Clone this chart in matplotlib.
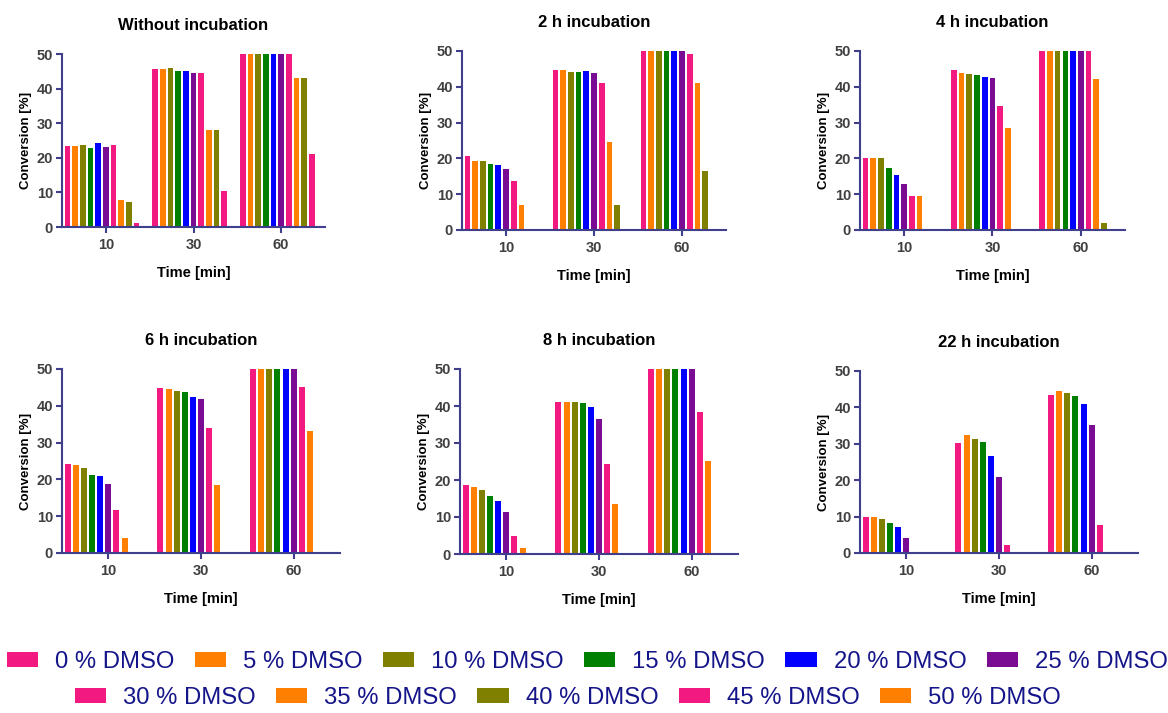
import numpy as np
import matplotlib
matplotlib.use("Agg")
import matplotlib.pyplot as plt
from matplotlib.patches import Patch

plt.rcParams['font.family'] = ['Liberation Sans', 'DejaVu Sans']

# DMSO content of each series and its colour
dmso = [0, 5, 10, 15, 20, 25, 30, 35, 40, 45, 50]
colors = ['#F21A80', '#FF8000', '#808000', '#008000', '#0000FF', '#7A0C94',
          '#F21A80', '#FF8000', '#808000', '#F21A80', '#FF8000']
times = ['10', '30', '60']

# conversion [%] per reaction time, one value per DMSO level
conv_none = [[23.4, 23.4, 23.6, 22.9, 24.2, 23.1, 23.6, 7.7, 7.3, 1.3, 0],
             [45.6, 45.7, 45.9, 45.1, 45.1, 44.6, 44.4, 27.9, 27.9, 10.3, 0],
             [50, 50, 50, 50, 50, 50, 50, 43.2, 43.2, 21.2, 0]]
conv_2h = [[20.6, 19.4, 19.4, 18.3, 18.1, 16.9, 13.7, 7.1, 0.4, 0, 0],
           [44.6, 44.6, 44.1, 44.1, 44.3, 43.8, 41.1, 24.7, 7.1, 0, 0],
           [50, 50, 50, 50, 50, 50, 49.1, 41.0, 16.4, 0, 0]]
conv_4h = [[20.2, 20.2, 20.1, 17.4, 15.5, 12.8, 9.4, 9.6, 0, 0, 0],
           [44.7, 43.8, 43.6, 43.2, 42.6, 42.4, 34.6, 28.5, 0, 0, 0],
           [50, 50, 50, 50, 50, 50, 50, 42.3, 2.0, 0, 0]]
conv_6h = [[24.1, 23.9, 23.0, 21.2, 21.0, 18.8, 11.7, 4.1, 0, 0, 0],
           [44.8, 44.7, 44.0, 43.8, 42.3, 41.9, 34.1, 18.4, 0, 0, 0],
           [50, 50, 50, 50, 50, 50, 45.0, 33.1, 0, 0, 0]]
conv_8h = [[18.6, 18.1, 17.2, 15.6, 14.4, 11.3, 5.0, 1.7, 0, 0, 0],
           [41.1, 41.1, 41.1, 40.8, 39.7, 36.5, 24.2, 13.6, 0, 0, 0],
           [50, 50, 50, 50, 50, 50, 38.5, 25.1, 0, 0, 0]]
conv_22h = [[9.8, 9.8, 9.4, 8.3, 7.1, 4.1, 0, 0, 0, 0, 0],
            [30.2, 32.4, 31.4, 30.6, 26.7, 20.8, 2.2, 0, 0, 0, 0],
            [43.4, 44.4, 43.9, 43.2, 41.0, 35.2, 7.7, 0, 0, 0, 0]]

titles = ['Without incubation', '2 h incubation', '4 h incubation',
          '6 h incubation', '8 h incubation', '22 h incubation']
panels = [conv_none, conv_2h, conv_4h, conv_6h, conv_8h, conv_22h]

W, H = 1168, 713
# axes boxes in pixels: left, right, bottom, top
boxes = [(62, 325, 227, 54), (462, 726, 230, 51), (860, 1125, 230, 51),
         (62, 340, 553, 369), (460, 738, 554, 369), (860, 1138, 553, 371)]

axis_col = '#3F3F8C'
tick_col = '#404040'
fig = plt.figure(figsize=(W / 100, H / 100), dpi=100)

slot = 0.0875
bw = 0.064
x = np.arange(len(times))

for data, title, (l, r, b, t) in zip(panels, titles, boxes):
    ax = fig.add_axes([l / W, 1 - b / H, (r - l) / W, (b - t) / H])
    vals = np.array(data).T  # rows: DMSO level, cols: time
    for i, (row, c) in enumerate(zip(vals, colors)):
        ax.bar(x + (i - 5) * slot, row, width=bw, color=c, linewidth=0)
    ax.set_xlim(-0.5, 2.5)
    ax.set_ylim(0, 50)
    ax.set_yticks([0, 10, 20, 30, 40, 50])
    ax.set_xticks(x)
    ax.set_xticklabels(times)
    for s in ['top', 'right']:
        ax.spines[s].set_visible(False)
    for s in ['left', 'bottom']:
        ax.spines[s].set_color(axis_col)
        ax.spines[s].set_linewidth(1.5)
    ax.tick_params(axis='both', colors=axis_col, width=1.5, length=4.5,
                   labelcolor=tick_col, labelsize=10.5)
    ax.tick_params(axis='x', pad=3.5)
    ax.tick_params(axis='y', pad=2)
    for lab in ax.get_xticklabels() + ax.get_yticklabels():
        lab.set_fontweight('bold')
    ax.set_title(title, fontsize=12, fontweight='bold', pad=17)
    ax.set_xlabel('Time [min]', fontsize=10.5, fontweight='bold', labelpad=10)
    ax.set_ylabel('Conversion [%]', fontsize=9.5, fontweight='bold', labelpad=3)

handles = [Patch(facecolor=c, edgecolor='none', label=f'{d} % DMSO')
           for d, c in zip(dmso, colors)]
leg_kw = dict(frameon=False, fontsize=17.2, handlelength=1.3, handleheight=0.6,
              handletextpad=0.72, columnspacing=0.85, borderpad=0,
              borderaxespad=0, labelcolor='#15158A', loc='center left')
fig.legend(handles=handles[:6], ncol=6, bbox_to_anchor=(7 / W, 1 - 662 / H), **leg_kw)
fig.legend(handles=handles[6:], ncol=5, bbox_to_anchor=(75 / W, 1 - 698 / H), **leg_kw)

fig.savefig('out.png', dpi=100)
